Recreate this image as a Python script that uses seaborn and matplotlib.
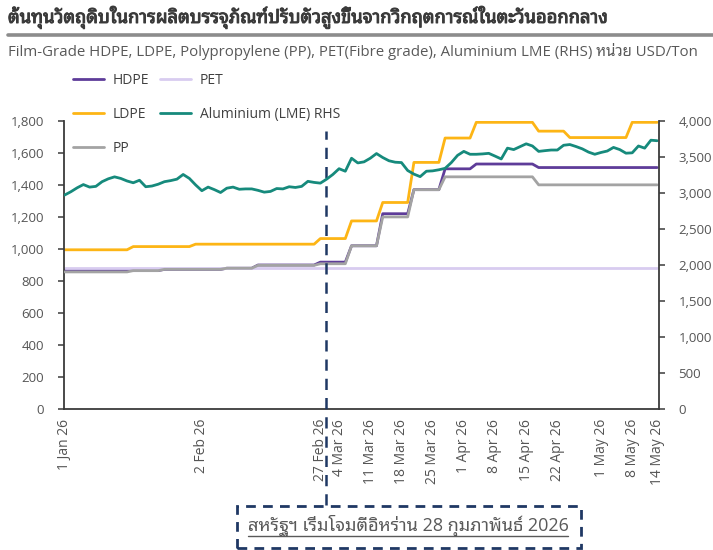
import os
import unicodedata
import numpy as np
import pandas as pd
import matplotlib
matplotlib.use("Agg")
import matplotlib.pyplot as plt
import seaborn as sns
from matplotlib import font_manager as fm
from matplotlib.lines import Line2D
from matplotlib.patches import Rectangle
import matplotlib.patheffects as pe
import matplotlib.transforms as mtransforms

# ---------------- data ----------------
start_date = "2026-01-01"
end_date = "2026-05-14"
tick_dates = ["2026-01-01", "2026-02-02", "2026-02-27", "2026-03-04", "2026-03-11",
              "2026-03-18", "2026-03-25", "2026-04-01", "2026-04-08", "2026-04-15",
              "2026-04-22", "2026-05-01", "2026-05-08", "2026-05-14"]
tick_labels = ["1 Jan 26", "2 Feb 26", "27 Feb 26", "4 Mar 26", "11 Mar 26",
               "18 Mar 26", "25 Mar 26", "1 Apr 26", "8 Apr 26", "15 Apr 26",
               "22 Apr 26", "1 May 26", "8 May 26", "14 May 26"]
event_position = 41.9  # 28 Feb 2026 (weekend, between 27 Feb and 2 Mar)

hdpe = [870, 870, 870, 870, 870, 870, 870, 870, 870, 870, 870,
        865, 865, 865, 865, 865,
        873, 873, 873, 873, 873, 873, 873, 873, 873, 873,
        880, 880, 880, 880, 880,
        900, 900, 900, 900, 900, 900, 900, 900, 900, 900,
        918, 918, 918, 918, 918,
        1020, 1020, 1020, 1020, 1020,
        1220, 1220, 1220, 1220, 1220,
        1370, 1370, 1370, 1370, 1370,
        1500, 1500, 1500, 1500, 1500,
        1530, 1530, 1530, 1530, 1530, 1530, 1530, 1530, 1530, 1530,
        1508, 1508, 1508, 1508, 1508, 1508, 1508, 1508, 1508, 1508,
        1508, 1508, 1508, 1508, 1508, 1508, 1508, 1508, 1508, 1508]

pet = [882] * 96

ldpe = [995, 995, 995, 995, 995, 995, 995, 995, 995, 995, 995,
        1015, 1015, 1015, 1015, 1015, 1015, 1015, 1015, 1015, 1015,
        1030, 1030, 1030, 1030, 1030, 1030, 1030, 1030, 1030, 1030,
        1030, 1030, 1030, 1030, 1030, 1030, 1030, 1030, 1030, 1030,
        1065, 1065, 1065, 1065, 1065,
        1175, 1175, 1175, 1175, 1175,
        1290, 1290, 1290, 1290, 1290,
        1540, 1540, 1540, 1540, 1540,
        1692, 1692, 1692, 1692, 1692,
        1790, 1790, 1790, 1790, 1790, 1790, 1790, 1790, 1790, 1790,
        1735, 1735, 1735, 1735, 1735,
        1695, 1695, 1695, 1695, 1695, 1695, 1695, 1695, 1695, 1695,
        1790, 1790, 1790, 1790, 1790]

pp = [857, 857, 857, 857, 857, 857, 857, 857, 857, 857, 857,
      865, 865, 865, 865, 865,
      873, 873, 873, 873, 873, 873, 873, 873, 873, 873,
      880, 880, 880, 880, 880,
      898, 898, 898, 898, 898, 898, 898, 898, 898, 898,
      908, 908, 908, 908, 908,
      1020, 1020, 1020, 1020, 1020,
      1200, 1200, 1200, 1200, 1200,
      1370, 1370, 1370, 1370, 1370,
      1450, 1450, 1450, 1450, 1450, 1450, 1450, 1450, 1450, 1450,
      1450, 1450, 1450, 1450, 1450,
      1400, 1400, 1400, 1400, 1400, 1400, 1400, 1400, 1400, 1400,
      1400, 1400, 1400, 1400, 1400, 1400, 1400, 1400, 1400, 1400]

aluminium = [2970, 3016, 3070, 3115, 3080, 3090, 3155, 3195, 3222, 3200,
             3165, 3140, 3175, 3085, 3095, 3120, 3155, 3170, 3190, 3255,
             3200, 3110, 3030, 3080, 3045, 3005, 3065, 3080, 3050, 3055,
             3055, 3035, 3010, 3020, 3060, 3055, 3085, 3075, 3090, 3160,
             3145, 3135, 3190, 3255, 3335, 3300, 3480, 3415, 3430, 3480,
             3545, 3490, 3445, 3425, 3420, 3310, 3260, 3225, 3300, 3305,
             3320, 3340, 3420, 3520, 3575, 3535, 3535, 3540, 3548, 3510,
             3470, 3620, 3600, 3640, 3680, 3650, 3575, 3585, 3594, 3594,
             3660, 3670, 3642, 3610, 3565, 3535, 3560, 3580, 3630, 3600,
             3550, 3555, 3650, 3620, 3730, 3723]

title_text = "ต้นทุนวัตถุดิบในการผลิตบรรจุภัณฑ์ปรับตัวสูงขึ้นจากวิกฤตการณ์ในตะวันออกกลาง"
subtitle_text = "Film-Grade HDPE, LDPE, Polypropylene (PP), PET(Fibre grade), Aluminium LME (RHS) หน่วย USD/Ton"
note_text = "สหรัฐฯ เริ่มโจมตีอิหร่าน 28 กุมภาพันธ์ 2026"


# ---------------- fonts (Thai support) ----------------
def thai_font_files():
    out = []
    try:
        from fontTools.ttLib import TTFont
    except Exception:
        return out
    for f in fm.findSystemFonts():
        try:
            tt = TTFont(f, fontNumber=0, lazy=True)
            cmap = tt.getBestCmap()
            if cmap and 0x0E01 in cmap and 0x0E49 in cmap:
                name = fm.FontProperties(fname=f).get_name()
                out.append((name, f))
        except Exception:
            pass
    return out


def patch_marks(path, out_path, family):
    """matplotlib does no complex shaping: give Thai combining marks zero
    advance so they sit on the preceding consonant."""
    from fontTools.ttLib import TTFont
    f = TTFont(path, fontNumber=0)
    if "glyf" not in f:
        return False
    cmap = f.getBestCmap()
    glyf = f["glyf"]
    hmtx = f["hmtx"]
    base = cmap.get(0x0E01)
    bg = glyf[base]
    badv = hmtx[base][0]
    brsb = badv - bg.xMax
    for cp, gname in cmap.items():
        if not (0x0E00 <= cp <= 0x0E7F):
            continue
        if unicodedata.category(chr(cp)) != "Mn":
            continue
        adv, lsb = hmtx[gname]
        g = glyf[gname]
        if g.numberOfContours == 0:
            continue
        if adv == 0 and g.xMax <= 0:
            continue
        dx = int(round(-brsb - g.xMax))
        if g.isComposite():
            for c in g.components:
                c.x += dx
        else:
            g.coordinates.translate((dx, 0))
        g.recalcBounds(glyf)
        hmtx[gname] = (0, g.xMin)
    for rec in f["name"].names:
        if rec.nameID in (1, 4, 16):
            rec.string = family
        elif rec.nameID == 6:
            rec.string = family.replace(" ", "") + "-" + str(f["OS/2"].usWeightClass)
    f.save(out_path)
    return True


sns.set_style("white")
thai_family = None
try:
    cands = thai_font_files()
    pref = ["Noto Sans Thai Looped", "Noto Sans Thai", "Noto Sans Thai UI", "Sarabun",
            "Loma", "Garuda", "Umpush", "Waree", "Tlwg Typo"]
    chosen = None
    for p in pref:
        if any(n == p for n, _ in cands):
            chosen = p
            break
    if chosen is None and cands:
        chosen = cands[0][0]
    if chosen is not None:
        files = [f for n, f in cands if n == chosen]
        ok_any = False
        for i, f in enumerate(files):
            outp = os.path.abspath(f"thai_patched_{i}.ttf")
            try:
                if patch_marks(f, outp, "ThaiPatched"):
                    fm.fontManager.addfont(outp)
                    ok_any = True
            except Exception:
                pass
        thai_family = "ThaiPatched" if ok_any else chosen
except Exception:
    thai_family = None

fams = ["Open Sans"] + ([thai_family] if thai_family else []) + ["DejaVu Sans"]
plt.rcParams["font.family"] = fams

# ---------------- figure ----------------
colors = {"HDPE": "#5E3C99", "PET": "#D8CCF0", "LDPE": "#FDB515",
          "Aluminium (LME) RHS": "#168A7C", "PP": "#A3A3A3"}

dates = pd.bdate_range(start_date, end_date)
df = pd.DataFrame({"pos": np.arange(len(dates)), "HDPE": hdpe, "PET": pet,
                   "LDPE": ldpe, "PP": pp, "Aluminium": aluminium})

fig = plt.figure(figsize=(7.13, 5.5), dpi=100)
ax = fig.add_axes([0.0898, 0.2558, 0.8345, 0.5247])
ax2 = ax.twinx()

lw = 2.0
sns.lineplot(data=df, x="pos", y="HDPE", ax=ax, color=colors["HDPE"], lw=lw, label="HDPE")
sns.lineplot(data=df, x="pos", y="PET", ax=ax, color=colors["PET"], lw=lw, label="PET")
sns.lineplot(data=df, x="pos", y="LDPE", ax=ax, color=colors["LDPE"], lw=lw, label="LDPE")
sns.lineplot(data=df, x="pos", y="Aluminium", ax=ax2, color=colors["Aluminium (LME) RHS"],
             lw=lw, label="Aluminium (LME) RHS")
sns.lineplot(data=df, x="pos", y="PP", ax=ax, color=colors["PP"], lw=lw, label="PP")

for line in ax.get_lines():
    if line.get_label() == "PP":
        line.set_zorder(3)

h1, l1 = ax.get_legend_handles_labels()
h2, l2 = ax2.get_legend_handles_labels()
for a in (ax, ax2):
    if a.get_legend() is not None:
        a.get_legend().remove()
hmap = dict(zip(l1 + l2, h1 + h2))
order = ["HDPE", "LDPE", "PP", "PET", "Aluminium (LME) RHS"]

ax.set_ylim(0, 1800)
ax2.set_ylim(0, 4000)
ax.set_xlim(-0.1, 95.3)
ax.set_yticks(np.arange(0, 1801, 200))
ax2.set_yticks(np.arange(0, 4001, 500))
fmt = matplotlib.ticker.FuncFormatter(lambda v, p: f"{int(v):,}")
ax.yaxis.set_major_formatter(fmt)
ax2.yaxis.set_major_formatter(fmt)

tick_pos = [dates.get_loc(pd.Timestamp(d)) for d in tick_dates]
ax.set_xticks(tick_pos)
ax.set_xticklabels(tick_labels, rotation=90)
ax.set_xlabel("")
ax.set_ylabel("")
ax2.set_ylabel("")

spine_c = "#3A3A3A"
tick_c = "#555555"
for a in (ax, ax2):
    a.spines["top"].set_visible(False)
    for s in ("left", "right", "bottom"):
        a.spines[s].set_color(spine_c)
        a.spines[s].set_linewidth(1.3)
    a.tick_params(axis="both", which="major", length=4, width=1.1, color=spine_c,
                  labelsize=9.5, labelcolor=tick_c, direction="out")
    a.grid(False)
ax.spines["right"].set_visible(False)
ax2.spines["left"].set_visible(False)
ax2.spines["bottom"].set_visible(False)
ax.tick_params(axis="x", pad=3, labelsize=10)
ax.tick_params(axis="y", pad=10.5)
ax2.tick_params(axis="y", pad=10)

# event dashed line
navy = "#1F3864"
trans = mtransforms.blended_transform_factory(ax.transData, ax.transAxes)
ax.plot([event_position, event_position], [-0.332, 0.965], transform=trans,
        color=navy, lw=1.8, linestyle=(0, (4.5, 3.2)), clip_on=False, zorder=20)

# legend
fig.legend([hmap[k] for k in order], order, ncol=2, loc="upper left",
           bbox_to_anchor=(73 / 713, 1 - 73 / 550), frameon=False, fontsize=10,
           labelcolor="#404040", handlelength=2.2, handletextpad=0.65,
           columnspacing=0.8, labelspacing=1.35, borderpad=0, borderaxespad=0)

# title, rule and subtitle
fig.text(8 / 713, 1 - 18 / 550, title_text, fontsize=13.2, fontweight="bold",
         color="#3A3A3A", ha="left", va="center",
         path_effects=[pe.withStroke(linewidth=0.7, foreground="#3A3A3A")])
fig.add_artist(Line2D([8 / 713, 1.0], [1 - 35 / 550, 1 - 35 / 550],
                      transform=fig.transFigure, color="#8C8C8C", lw=2.6))
fig.text(8 / 713, 1 - 52 / 550, subtitle_text, fontsize=10.8, color="#595959",
         ha="left", va="center")

# annotation box
box = Rectangle((237 / 713, 1 - 548 / 550), (581 - 237) / 713, (548 - 506) / 550,
                transform=fig.transFigure, fill=False, edgecolor=navy, lw=2.0,
                linestyle=(0, (3.5, 2.6)))
fig.add_artist(box)
note = fig.text(408 / 713, 1 - 526 / 550, note_text, fontsize=13, color="#595959",
                ha="center", va="center")

fig.canvas.draw()
bb = note.get_window_extent(fig.canvas.get_renderer())
W, H = fig.bbox.width, fig.bbox.height
uy = (bb.y0 + 1) / H
fig.add_artist(Line2D([bb.x0 / W, bb.x1 / W], [uy, uy], transform=fig.transFigure,
                      color="#595959", lw=1.0))

fig.savefig("out.png", dpi=100)
